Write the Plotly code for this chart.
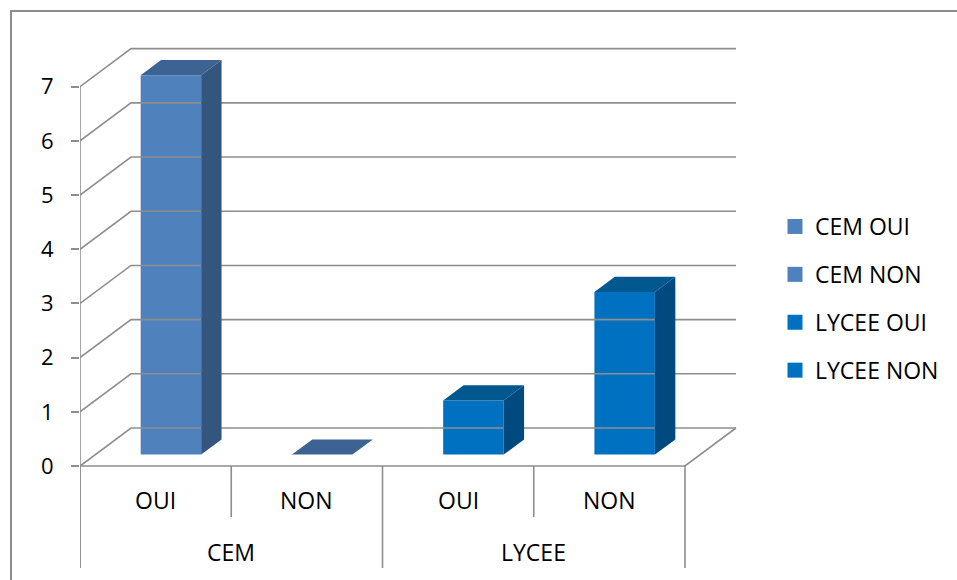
import plotly.graph_objects as go

# ---- data ----
groups = ["CEM", "CEM", "LYCEE", "LYCEE"]
answers = ["OUI", "NON", "OUI", "NON"]
series_names = ["CEM OUI", "CEM NON", "LYCEE OUI", "LYCEE NON"]
values = [7, 0, 1, 3]
y_ticks = [0, 1, 2, 3, 4, 5, 6, 7]

# ---- styling / geometry constants ----
front_cols = ["#4F81BD", "#4F81BD", "#0070C0", "#0070C0"]
top_cols = ["#3C6391", "#3C6391", "#00588F", "#00588F"]
side_cols = ["#33557E", "#33557E", "#004A7F", "#004A7F"]
GRID = "#8E8E8E"
FONT = "Open Sans"

W, H = 957, 580
X0PX, Y0PX = 80, 466          # pixel of data origin (front-left-bottom)
XU, YU = 151.25, 54.19        # pixels per category / per value unit
DX, DY = 51 / XU, 38 / YU     # 3D depth offset in data units
F0, F1 = 0.3, 0.7             # bar depth (fraction of full depth)
BW = 0.4                      # bar width (category units)

xr = [0, (W - X0PX) / XU]
yr = [-(H - Y0PX) / YU, Y0PX / YU]

fig = go.Figure()

def line(xs, ys, width=1.6):
    fig.add_trace(go.Scatter(x=xs, y=ys, mode="lines", line=dict(color=GRID, width=width),
                             hoverinfo="skip", showlegend=False))

ncat = len(values)
# back wall gridlines and left wall diagonals
for v in y_ticks:
    line([0, DX, ncat + DX], [v, v + DY, v + DY])
# front-left vertical axis line
line([0, 0], [max(y_ticks), -(568 - Y0PX) / YU])
# floor edges
line([0, ncat, ncat + DX], [0, 0, DY])
# category dividers
for i in range(ncat + 1):
    bottom = 568 if i % 2 == 0 else 517
    line([i, i], [0, -(bottom - Y0PX) / YU])

# bars (front face as real bars, depth faces as polygons)
for i, v in enumerate(values):
    xl = i + 0.5 - BW / 2
    xrr = i + 0.5 + BW / 2
    if v > 0:
        fig.add_trace(go.Bar(x=[i + 0.5 + F0 * DX], y=[v], base=[F0 * DY], width=[BW],
                             marker=dict(color=front_cols[i], line=dict(width=0)),
                             name=series_names[i], showlegend=False))
        # side face
        fig.add_trace(go.Scatter(
            x=[xrr + F0 * DX, xrr + F0 * DX, xrr + F1 * DX, xrr + F1 * DX, xrr + F0 * DX],
            y=[F0 * DY, v + F0 * DY, v + F1 * DY, F1 * DY, F0 * DY],
            mode="lines", fill="toself", fillcolor=side_cols[i],
            line=dict(width=0, color=side_cols[i]), hoverinfo="skip", showlegend=False))
    # top face
    fig.add_trace(go.Scatter(
        x=[xl + F0 * DX, xrr + F0 * DX, xrr + F1 * DX, xl + F1 * DX, xl + F0 * DX],
        y=[v + F0 * DY, v + F0 * DY, v + F1 * DY, v + F1 * DY, v + F0 * DY],
        mode="lines", fill="toself", fillcolor=top_cols[i],
        line=dict(width=0, color=top_cols[i]), hoverinfo="skip", showlegend=False))

# legend entries
for i, name in enumerate(series_names):
    fig.add_trace(go.Scatter(x=[None], y=[None], mode="markers", name=name,
                             legendgroup=name,
                             marker=dict(symbol="square", size=15, color=front_cols[i])))

# category labels
ann = []
for i, a in enumerate(answers):
    ann.append(dict(x=i + 0.5, y=-(500 - Y0PX) / YU, xref="x", yref="y", text=a,
                    showarrow=False, font=dict(family=FONT, size=23, color="#000")))
seen = []
for g in groups:
    if g not in seen:
        seen.append(g)
for g in seen:
    idx = [i for i, gg in enumerate(groups) if gg == g]
    cx = (min(idx) + max(idx) + 1) / 2
    ann.append(dict(x=cx, y=-(552 - Y0PX) / YU, xref="x", yref="y", text=g,
                    showarrow=False, font=dict(family=FONT, size=23, color="#000")))

plot_w = W - X0PX
shapes = [dict(type="rect", xref="paper", yref="paper",
               x0=(11 - X0PX) / plot_w, x1=(W + 5 - X0PX) / plot_w,
               y0=-0.05, y1=(H - 11) / H,
               line=dict(color="#8C8C8C", width=2), fillcolor="rgba(0,0,0,0)", layer="below")]

fig.update_layout(
    width=W, height=H,
    margin=dict(l=X0PX, r=0, t=0, b=0),
    paper_bgcolor="white", plot_bgcolor="white",
    barmode="overlay",
    xaxis=dict(range=xr, visible=False, fixedrange=True),
    yaxis=dict(range=yr, tickvals=y_ticks, ticktext=[str(t) for t in y_ticks],
               showgrid=False, zeroline=False, showline=False,
               ticks="outside", ticklen=8, tickcolor=GRID, tickwidth=1.6,
               ticklabelstandoff=13,
               tickfont=dict(family=FONT, size=22, color="#000"), fixedrange=True),
    showlegend=True,
    legend=dict(x=(775 - X0PX) / plot_w, y=(H - 205) / H, xanchor="left", yanchor="top",
                font=dict(family=FONT, size=23, color="#000"),
                tracegroupgap=15, bgcolor="rgba(0,0,0,0)"),
    annotations=ann,
    shapes=shapes,
)

fig.write_html("out.html")
